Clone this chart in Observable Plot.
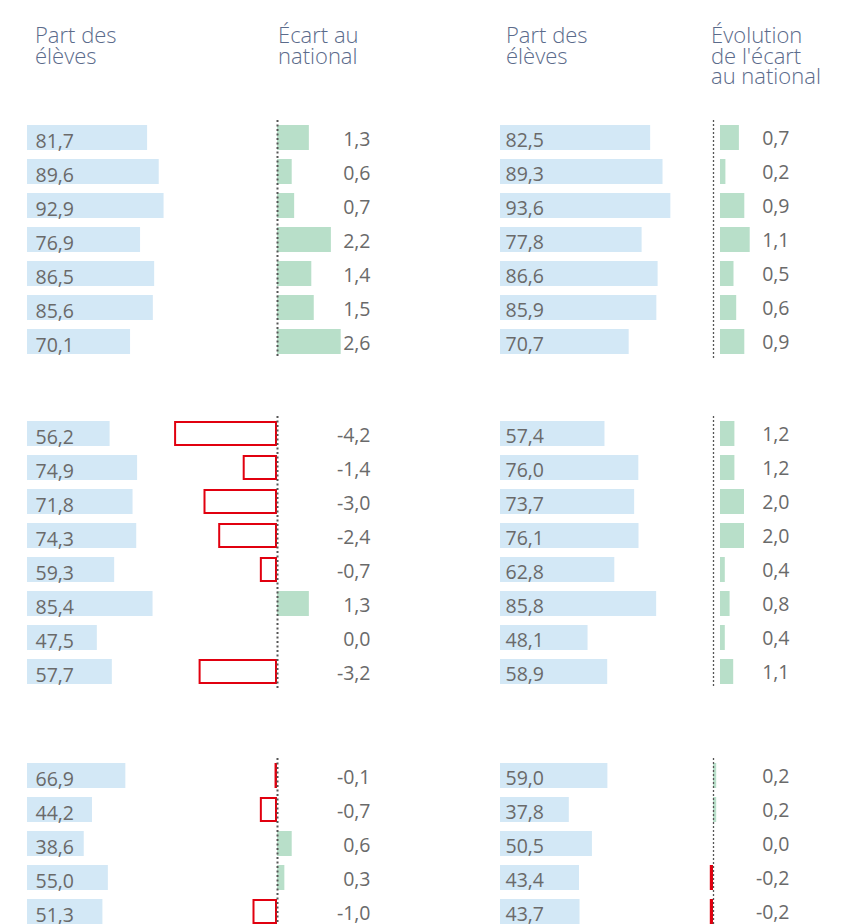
<!DOCTYPE html>
<html><head><meta charset="utf-8">
<script src="https://cdn.jsdelivr.net/npm/d3@7"></script>
<script src="https://cdn.jsdelivr.net/npm/@observablehq/plot@0.6"></script>
<style>
body{margin:0;background:#fff;}
#chart{position:relative;width:856px;height:924px;overflow:hidden;font-family:"Open Sans",sans-serif;}
.hdr{position:absolute;top:24px;font-size:22px;line-height:20.5px;color:#5b6b8b;white-space:pre;font-weight:300;}
.cell{position:absolute;}
</style></head><body><div id="chart"></div>
<script>
// Column headers
const headers = [["Part des","élèves"],["Écart au","national"],["Part des","élèves"],["Évolution","de l'écart","au national"]];

// Part des élèves (first block), by group
const partA = [
  [81.7, 89.6, 92.9, 76.9, 86.5, 85.6, 70.1],
  [56.2, 74.9, 71.8, 74.3, 59.3, 85.4, 47.5, 57.7],
  [66.9, 44.2, 38.6, 55.0, 51.3]
];
// Écart au national
const ecart = [
  [1.3, 0.6, 0.7, 2.2, 1.4, 1.5, 2.6],
  [-4.2, -1.4, -3.0, -2.4, -0.7, 1.3, 0.0, -3.2],
  [-0.1, -0.7, 0.6, 0.3, -1.0]
];
// Part des élèves (second block)
const partB = [
  [82.5, 89.3, 93.6, 77.8, 86.6, 85.9, 70.7],
  [57.4, 76.0, 73.7, 76.1, 62.8, 85.8, 48.1, 58.9],
  [59.0, 37.8, 50.5, 43.4, 43.7]
];
// Évolution de l'écart au national
const evol = [
  [0.7, 0.2, 0.9, 1.1, 0.5, 0.6, 0.9],
  [1.2, 1.2, 2.0, 2.0, 0.4, 0.8, 0.4, 1.1],
  [0.2, 0.2, 0.0, -0.2, -0.2]
];

const ROW = 34;
const groupTops = [120, 416, 758];
const headerX = [35, 278, 506, 711];
const BLUE = "#d3e8f6", GREEN = "#b8dfc9", RED = "#e1000f", TXT = "#6a6a6a";
const fmt = v => v.toFixed(1).replace(".", ",");

const chart = document.getElementById("chart");
headers.forEach((lines, i) => {
  const d = document.createElement("div");
  d.className = "hdr";
  d.style.left = headerX[i] + "px";
  d.textContent = lines.join("\n");
  chart.appendChild(d);
});

function yScale(n) {
  return {domain: d3.range(n), axis: null, paddingInner: 0.265, paddingOuter: 0.1325};
}

function place(svg, left, top) {
  const w = document.createElement("div");
  w.className = "cell";
  w.style.left = left + "px";
  w.style.top = top + "px";
  w.appendChild(svg);
  chart.appendChild(w);
}

const STYLE = {background: "transparent", overflow: "visible", fontFamily: "'Open Sans', sans-serif"};

function shareCell(values, left, top, width, dx, dy) {
  const n = values.length;
  const svg = Plot.plot({
    width, height: n * ROW, margin: 0, style: STYLE,
    x: {domain: [0, 100], axis: null},
    y: yScale(n),
    marks: [
      Plot.barX(values, {x1: 0, x2: d => d, y: (d, i) => i, fill: BLUE}),
      Plot.text(values, {y: (d, i) => i, frameAnchor: "left", dx, dy, text: fmt, textAnchor: "start", fill: TXT, fontSize: 19.5, fontWeight: 400})
    ]
  });
  place(svg, left, top);
}

function gapCell(values, left, top, width, zeroX, k, ruleDx, ruleW, dash, dy) {
  const n = values.length;
  const svg = Plot.plot({
    width, height: n * ROW, margin: 0, style: STYLE,
    x: {domain: [(left - zeroX) / k, (left + width - zeroX) / k], axis: null},
    y: yScale(n),
    marks: [
      Plot.barX(values, {filter: d => d > 0, x1: 0, x2: d => d, y: (d, i) => i, fill: GREEN}),
      Plot.barX(values, {filter: d => d < 0, x1: 0, x2: d => d, y: (d, i) => i, fill: "white", stroke: RED, strokeWidth: 2, inset: 1}),
      Plot.ruleX([0], {dx: ruleDx, stroke: "#555", strokeWidth: ruleW, strokeDasharray: dash}),
      Plot.text(values, {y: (d, i) => i, frameAnchor: "right", dx: -2, dy, text: fmt, textAnchor: "end", fill: TXT, fontSize: 19.5, fontWeight: 400})
    ]
  });
  place(svg, left, top);
}

const evolZero = [720, 720, 713];
const evolK = [27, 12, 16];
const evolRuleDx = [-7, -7, 0];

groupTops.forEach((top, g) => {
  shareCell(partA[g], 27, top, 147, 8, 4);
  gapCell(ecart[g], 170, top, 202, 277, 24.5, 0, 2, "2,2.5", 2);
  shareCell(partB[g], 500, top, 182, 5, 3);
  gapCell(evol[g], 700, top, 91, evolZero[g], evolK[g], evolRuleDx[g], 1.3, "2,2", 1);
});
</script>
</body></html>
